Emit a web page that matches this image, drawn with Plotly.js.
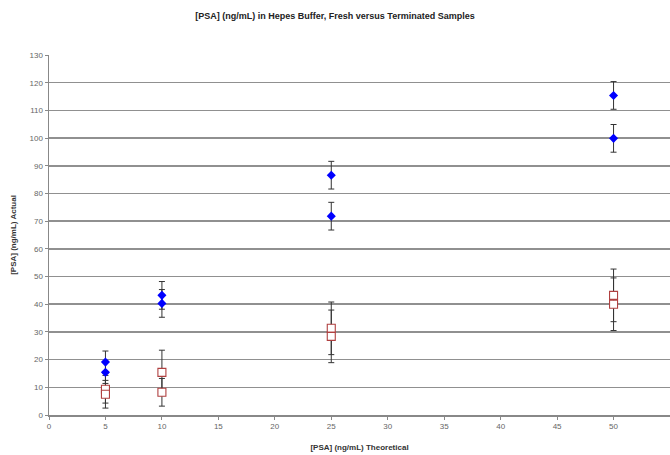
<!DOCTYPE html>
<html>
<head>
<meta charset="utf-8">
<script src="https://cdn.plot.ly/plotly-3.0.1.min.js"></script>
<style>
  html, body { margin: 0; padding: 0; background: #ffffff; }
  #chart { width: 670px; height: 455px; }
</style>
</head>
<body>
<div id="chart"></div>
<script>
// Theoretical PSA concentrations (ng/mL) and measured values
const freshX = [5, 5, 10, 10, 25, 25, 50, 50];
const freshY = [19.1, 15.4, 43.2, 40.3, 86.6, 71.8, 115.4, 99.9];
const freshErr = [4, 4, 5, 5, 5, 5, 5, 5];

const terminatedX = [5, 5, 10, 10, 25, 25, 50, 50];
const terminatedY = [9.3, 7.5, 15.4, 8.2, 31.3, 28.4, 43.2, 40.0];
const terminatedErr = [5, 5, 8, 5, 9.5, 9.5, 9.5, 9.5];

const xTicks = [0, 5, 10, 15, 20, 25, 30, 35, 40, 45, 50, 55];
const yTicks = [0, 10, 20, 30, 40, 50, 60, 70, 80, 90, 100, 110, 120, 130];

const errStyle = { type: 'data', visible: true, color: '#333333', thickness: 1, width: 3 };

const traces = [
  {
    name: 'Terminated',
    x: terminatedX, y: terminatedY,
    type: 'scatter', mode: 'markers',
    marker: { symbol: 'square', size: 8, color: '#ffffff', line: { color: '#b04040', width: 1.1 } },
    error_y: Object.assign({ array: terminatedErr }, errStyle)
  },
  {
    name: 'Fresh',
    x: freshX, y: freshY,
    type: 'scatter', mode: 'markers',
    marker: { symbol: 'diamond', size: 7, color: '#0000ff', line: { width: 0 } },
    error_y: Object.assign({ array: freshErr }, errStyle)
  }
];

const layout = {
  width: 670, height: 455,
  margin: { l: 49, r: 0, t: 55, b: 40 },
  paper_bgcolor: '#ffffff', plot_bgcolor: '#ffffff',
  showlegend: false,
  font: { family: 'Liberation Sans, Arial, sans-serif', color: '#555555', size: 8 },
  title: {
    text: '[PSA] (ng/mL) in Hepes Buffer, Fresh versus Terminated Samples',
    font: { family: 'Liberation Sans, Arial, sans-serif', size: 9, color: '#222222', weight: 'bold' },
    x: 0.5, xanchor: 'center', y: 0.965, yanchor: 'middle'
  },
  xaxis: {
    range: [0, 55],
    tickmode: 'array', tickvals: xTicks, ticktext: xTicks.map(String),
    showgrid: false, zeroline: false,
    showline: true, linecolor: '#888888', linewidth: 1.5,
    ticks: 'outside', ticklen: 3, tickcolor: '#888888',
    tickfont: { size: 8, color: '#666666' },
    title: {
      text: '[PSA] (ng/mL) Theoretical',
      font: { size: 8, color: '#333333', weight: 'bold' },
      standoff: 14
    },
    automargin: false
  },
  yaxis: {
    range: [0, 130],
    tickmode: 'array', tickvals: yTicks, ticktext: yTicks.map(String),
    showgrid: true, gridcolor: '#909090', gridwidth: 1.5,
    zeroline: false,
    showline: true, linecolor: '#888888', linewidth: 1.5,
    ticks: 'outside', ticklen: 3, tickcolor: '#888888',
    tickfont: { size: 8, color: '#666666' },
    title: {
      text: '[PSA] (ng/mL) Actual',
      font: { size: 8, color: '#333333', weight: 'bold' },
      standoff: 11
    },
    automargin: false
  }
};

Plotly.newPlot('chart', traces, layout, { staticPlot: true, displayModeBar: false });
</script>
</body>
</html>
